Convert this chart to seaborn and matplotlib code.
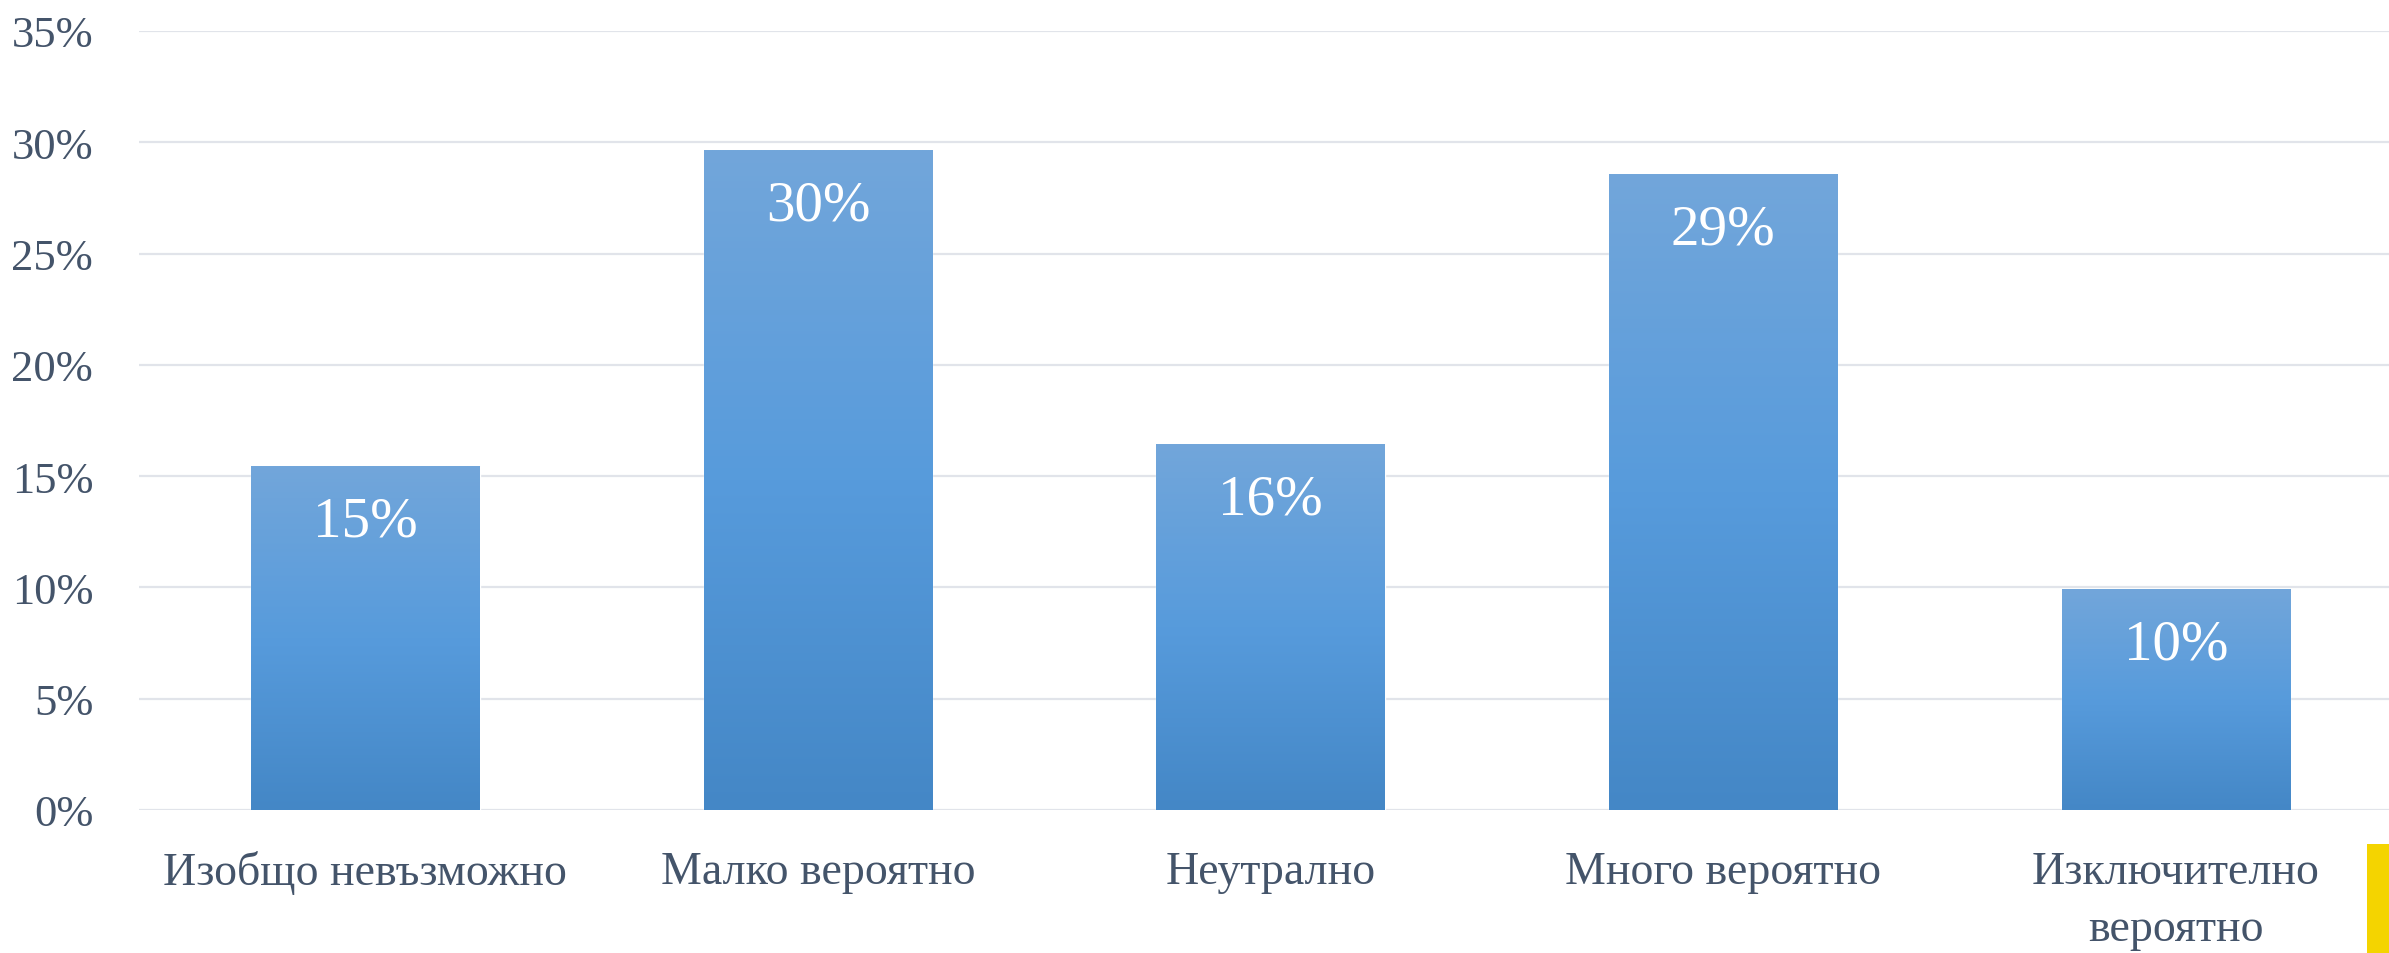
import numpy as np
import pandas as pd
import matplotlib
matplotlib.use("Agg")
import matplotlib.pyplot as plt
from matplotlib.colors import LinearSegmentedColormap
from matplotlib.patches import Rectangle
import seaborn as sns

# values
categories = ["Изобщо невъзможно", "Малко вероятно", "Неутрално",
              "Много вероятно", "Изключително\nвероятно"]
shares = [0.1545, 0.2965, 0.1644, 0.2857, 0.0993]
y_ticks = [0.0, 0.05, 0.10, 0.15, 0.20, 0.25, 0.30, 0.35]

df = pd.DataFrame({"category": categories, "share": shares})

sns.set_theme(style="white")
plt.rcParams["font.family"] = ["Liberation Serif", "DejaVu Serif"]

text_col = "#44546A"
grid_col = "#E1E4EA"

fig = plt.figure(figsize=(23.89, 9.54), dpi=100)
ax = fig.add_axes([0.0582, 0.150, 0.9473, 0.8165])

sns.barplot(data=df, x="category", y="share", color="#5A9BDC",
            width=0.505, saturation=1, ax=ax, zorder=3)

# vertical gradient fill on each bar
grad = LinearSegmentedColormap.from_list("bar", ["#4487C6", "#579BDC", "#72A6DA"])
g = np.linspace(0, 1, 256).reshape(-1, 1)
for p in ax.patches:
    x0, y0 = p.get_x(), p.get_y()
    w, h = p.get_width(), p.get_height()
    im = ax.imshow(g, cmap=grad, origin="lower", aspect="auto",
                   extent=[x0, x0 + w, y0, y0 + h], zorder=4)
    im.set_clip_path(p)
    ax.annotate(f"{h * 100:.0f}%", xy=(x0 + w / 2, y0 + h),
                xytext=(0, -40), textcoords="offset points",
                ha="center", va="center", color="white", fontsize=41, zorder=5)

ax.set_xlim(-0.5, 4.5)
ax.set_ylim(0, 0.35)
ax.set_yticks(y_ticks)
ax.set_yticklabels([f"{t * 100:.0f}%" for t in y_ticks])
ax.yaxis.grid(True, color=grid_col, linewidth=1.6, zorder=0)
ax.set_axisbelow(True)
for s in ax.spines.values():
    s.set_visible(False)
ax.axhline(0, color=grid_col, linewidth=1.8, zorder=2)

ax.tick_params(axis="y", length=0, pad=33, labelsize=32, labelcolor=text_col)
ax.tick_params(axis="x", length=0, pad=29, labelsize=33, labelcolor=text_col)
for lbl in ax.get_xticklabels():
    lbl.set_linespacing(1.45)
ax.set_xlabel("")
ax.set_ylabel("")

# bit of the cropped logo in the bottom right corner
fig.patches.append(Rectangle((0.9908, 0.0), 0.0092, 0.114, transform=fig.transFigure,
                             facecolor="#F4D400", edgecolor="none"))

fig.savefig("out.png", dpi=100)
